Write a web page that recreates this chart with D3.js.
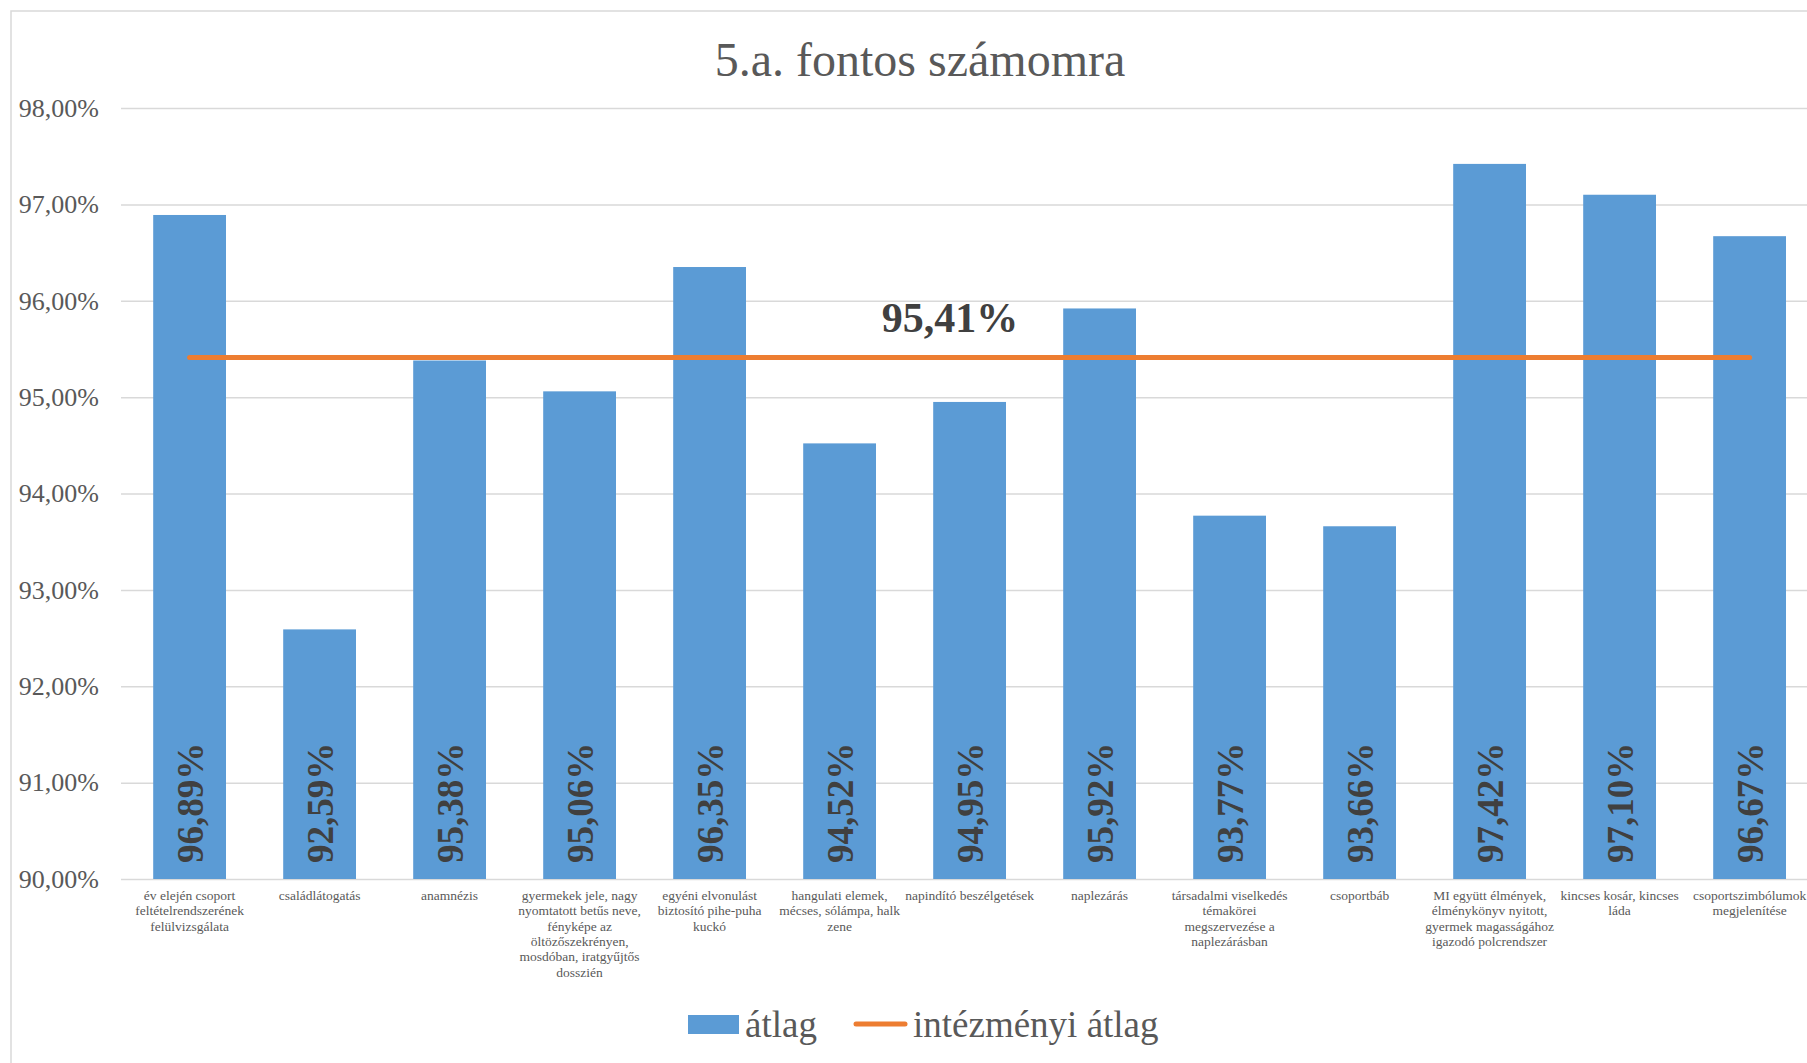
<!DOCTYPE html>
<html>
<head>
<meta charset="utf-8">
<script src="https://cdn.jsdelivr.net/npm/d3@7"></script>
<style>
  html, body { margin: 0; padding: 0; background: #fff; overflow: hidden; }
  svg { display: block; font-family: "Liberation Serif", "Times New Roman", serif; }
</style>
</head>
<body>
<svg width="1807" height="1063"></svg>
<script>
// chart data
const categories = [
  "év elején csoport\nfeltételrendszerének\nfelülvizsgálata",
  "családlátogatás",
  "anamnézis",
  "gyermekek jele, nagy\nnyomtatott betűs neve,\nfényképe az\nöltözőszekrényen,\nmosdóban, iratgyűjtős\ndosszién",
  "egyéni elvonulást\nbiztosító pihe-puha\nkuckó",
  "hangulati elemek,\nmécses, sólámpa, halk\nzene",
  "napindító beszélgetések",
  "naplezárás",
  "társadalmi viselkedés\ntémakörei\nmegszervezése a\nnaplezárásban",
  "csoportbáb",
  "MI együtt élmények,\nélménykönyv nyitott,\ngyermek magasságához\nigazodó polcrendszer",
  "kincses kosár, kincses\nláda",
  "csoportszimbólumok\nmegjelenítése"
];
const atlag = [96.89, 92.59, 95.38, 95.06, 96.35, 94.52, 94.95, 95.92, 93.77, 93.66, 97.42, 97.10, 96.67];
const intezmenyiAtlag = 95.41;
const yTicks = [90, 91, 92, 93, 94, 95, 96, 97, 98];
const title = "5.a. fontos számomra";
const legendNames = ["átlag", "intézményi átlag"];

const blue = "#5B9BD5", orange = "#ED7D31", textGray = "#595959", gridGray = "#d9d9d9";
const fmt = v => v.toFixed(2).replace(".", ",") + "%";

const svg = d3.select("svg");

// outer chart frame (runs off the right/bottom of the window like the reference)
svg.append("rect")
  .attr("x", 11).attr("y", 11)
  .attr("width", 1900).attr("height", 1100)
  .attr("fill", "none").attr("stroke", gridGray).attr("stroke-width", 1.5);

const x = d3.scaleBand()
  .domain(categories)
  .range([124.6, 1814.6])
  .paddingInner(0.44)
  .paddingOuter(0.22);

const y = d3.scaleLinear()
  .domain([90, 98])
  .range([879, 108]);

// gridlines + y labels
const yAxis = d3.axisLeft(y)
  .tickValues(yTicks)
  .tickSize(-(1814 - 121))
  .tickPadding(22)
  .tickFormat(d => fmt(d));

const gy = svg.append("g")
  .attr("transform", "translate(121,0)")
  .call(yAxis);
gy.select(".domain").remove();
gy.selectAll(".tick line").attr("stroke", gridGray).attr("stroke-width", 1.5);
gy.selectAll(".tick text")
  .attr("fill", textGray)
  .style("font-size", "26px")
  .style("font-family", "'Liberation Serif', 'Times New Roman', serif");

// bars
svg.append("g").selectAll("rect")
  .data(atlag)
  .join("rect")
  .attr("x", (d, i) => x(categories[i]))
  .attr("y", d => y(d))
  .attr("width", x.bandwidth())
  .attr("height", d => y(90) - y(d))
  .attr("fill", blue);

// bar value labels, rotated, at bar base
svg.append("g").selectAll("text")
  .data(atlag)
  .join("text")
  .attr("transform", (d, i) => `translate(${x(categories[i]) + x.bandwidth() / 2},${y(90) - 16}) rotate(-90)`)
  .attr("dy", "0.36em")
  .attr("text-anchor", "start")
  .attr("fill", "#404040")
  .style("font-size", "37px")
  .style("font-weight", "bold")
  .text(d => fmt(d));

// institutional average line
const line = d3.line()
  .x(d => x(d) + x.bandwidth() / 2)
  .y(() => y(intezmenyiAtlag));

svg.append("path")
  .datum(categories)
  .attr("d", line)
  .attr("fill", "none")
  .attr("stroke", orange)
  .attr("stroke-width", 5)
  .attr("stroke-linecap", "round");

svg.append("text")
  .attr("x", 950).attr("y", 332)
  .attr("text-anchor", "middle")
  .attr("fill", "#404040")
  .style("font-size", "42px")
  .style("font-weight", "bold")
  .text(fmt(intezmenyiAtlag));

// category labels
const xl = svg.append("g").selectAll("text")
  .data(categories)
  .join("text")
  .attr("x", d => x(d) + x.bandwidth() / 2)
  .attr("y", 900)
  .attr("text-anchor", "middle")
  .attr("fill", textGray)
  .style("font-size", "13.5px");
xl.selectAll("tspan")
  .data(d => d.split("\n"))
  .join("tspan")
  .attr("x", function() { return this.parentNode.getAttribute("x"); })
  .attr("dy", (d, i) => i === 0 ? 0 : 15.3)
  .text(d => d);

// title
svg.append("text")
  .attr("x", 920).attr("y", 76)
  .attr("text-anchor", "middle")
  .attr("fill", textGray)
  .style("font-size", "48px")
  .text(title);

// legend
const lg = svg.append("g").style("font-size", "37px").attr("fill", textGray);
lg.append("rect").attr("x", 688).attr("y", 1015).attr("width", 51).attr("height", 19).attr("fill", blue);
lg.append("text").attr("x", 745).attr("y", 1037).text(legendNames[0]);
lg.append("line").attr("x1", 856).attr("x2", 905).attr("y1", 1024).attr("y2", 1024)
  .attr("stroke", orange).attr("stroke-width", 5).attr("stroke-linecap", "round");
lg.append("text").attr("x", 913).attr("y", 1037).text(legendNames[1]);
</script>
</body>
</html>
